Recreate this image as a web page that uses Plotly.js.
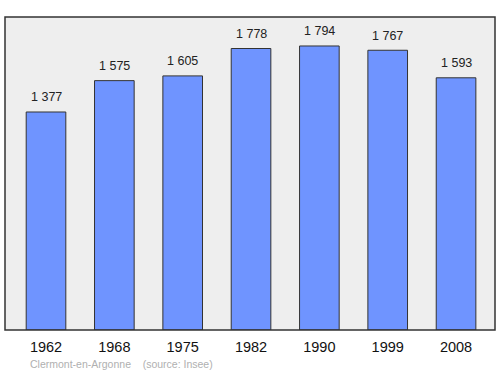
<!DOCTYPE html>
<html><head><meta charset="utf-8">
<script src="https://cdn.plot.ly/plotly-3.0.1.min.js"></script>
<style>html,body{margin:0;padding:0;background:#fff;}#chart{width:500px;height:374px;}</style>
</head><body><div id="chart"></div>
<script>
const years = ["1962","1968","1975","1982","1990","1999","2008"];
const population = [1377,1575,1605,1778,1794,1767,1593];
const labels = ["1 377","1 575","1 605","1 778","1 794","1 767","1 593"];
const sourceText = "Clermont-en-Argonne\u00a0\u00a0\u00a0\u00a0(source: Insee)";

const font = "Liberation Sans, Arial, sans-serif";
const trace = {
  type: "bar", x: years, y: population, width: 0.58,
  marker: {color: "#6f94ff", line: {color: "#333333", width: 1}},
  hoverinfo: "none"
};
const annotations = years.map((y, i) => ({
  x: i, y: population[i], xref: "x", yref: "y", text: labels[i], showarrow: false,
  yanchor: "middle", yshift: 14.5, font: {family: font, size: 12.5, color: "#222"}
}));
annotations.push({
  xref: "paper", yref: "paper", x: 0.046, y: -0.1086, xanchor: "left", yanchor: "middle",
  text: sourceText, showarrow: false, font: {family: font, size: 10.5, color: "#b0b0b0"}
});
const layout = {
  width: 500, height: 374,
  margin: {l: 5, r: 5, t: 17, b: 44},
  paper_bgcolor: "#ffffff", plot_bgcolor: "#eeeeee",
  showlegend: false,
  font: {family: font},
  xaxis: {type: "category", range: [-0.6, 6.57], showgrid: false, zeroline: false,
    ticks: "", ticklabelstandoff: 6, tickfont: {family: font, size: 14.5, color: "#111"}, fixedrange: true},
  yaxis: {range: [0, 1977], showgrid: false, zeroline: false, showticklabels: false, ticks: ""},
  annotations: annotations,
  shapes: [{type: "rect", xref: "paper", yref: "paper", x0: 0, y0: 0, x1: 1, y1: 1,
    line: {color: "#333333", width: 1.5}, layer: "above"}]
};
Plotly.newPlot("chart", [trace], layout, {staticPlot: true});
</script></body></html>
